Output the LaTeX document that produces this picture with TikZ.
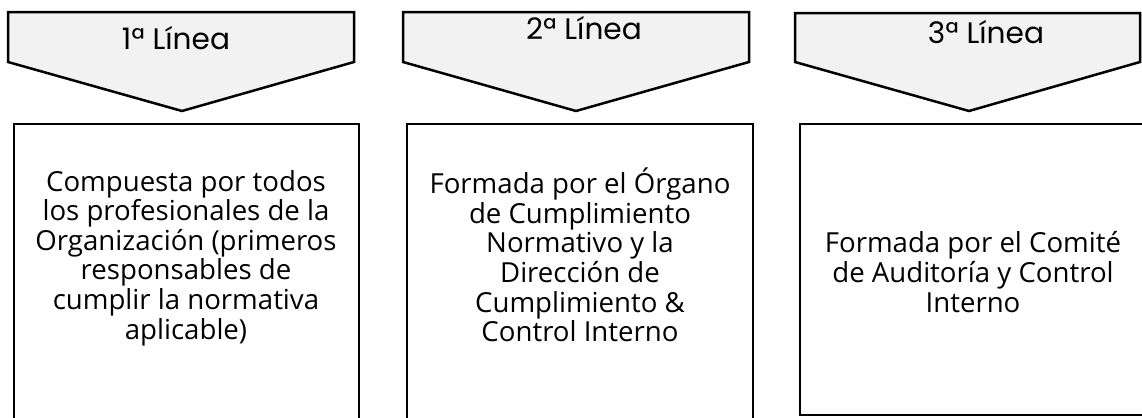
\documentclass[tikz,border=0pt]{standalone}
\usepackage{fontspec}
\setmainfont{Open Sans}
\newfontfamily\lineafont{Poppins}
\usetikzlibrary{positioning}

\begin{document}
\begin{tikzpicture}[x=0.5pt,y=-0.5pt,
	chevron/.style={draw=black,fill=gray!10,line width=1.25pt,line join=miter},
	caja/.style={draw=black,line width=1.25pt,inner sep=0pt},
	linea/.style={font=\lineafont\fontsize{14.8}{16}\selectfont,anchor=base,inner sep=0pt},
	texto/.style={font=\fontsize{13.8}{14.8}\selectfont,align=center,inner sep=0pt}]
\useasboundingbox (0,0) rectangle (1142,418);
\clip (0,0) rectangle (1142,418);

\draw[chevron] (8,12) -- (354,12) -- (354,62) -- (182,111) -- (8,62) -- cycle;
\draw[chevron] (403,12) -- (749,12) -- (749,62) -- (576,111) -- (403,62) -- cycle;
\draw[chevron] (795,13) -- (1140,13) -- (1140,62) -- (969,111) -- (795,62) -- cycle;
\node[linea] (l1) at (176,49) {1ª Línea};
\node[linea] (l2) at (584,39) {2ª Línea};
\node[linea] (l3) at (986,43) {3ª Línea};

\node[caja,minimum width=172.5pt,minimum height=153pt] (c1) at (186.5,277) {};
\node[caja,minimum width=173pt,minimum height=153pt] (c2) at (580,277) {};
\node[caja,minimum width=175pt,minimum height=145.5pt] (c3) at (975,269.5) {};

\node[texto] (t1) at (186,258) {Compuesta por todos\\los profesionales de la\\Organización (primeros\\responsables de\\cumplir la normativa\\aplicable)};
\node[texto] (t2) at (580,255) {Formada por el Órgano\\de Cumplimiento\\Normativo y la\\Dirección de\\Cumplimiento \&\\Control Interno};
\node[texto] (t3) at (973,272) {Formada por el Comité\\de Auditoría y Control\\Interno};
\end{tikzpicture}
\end{document}
